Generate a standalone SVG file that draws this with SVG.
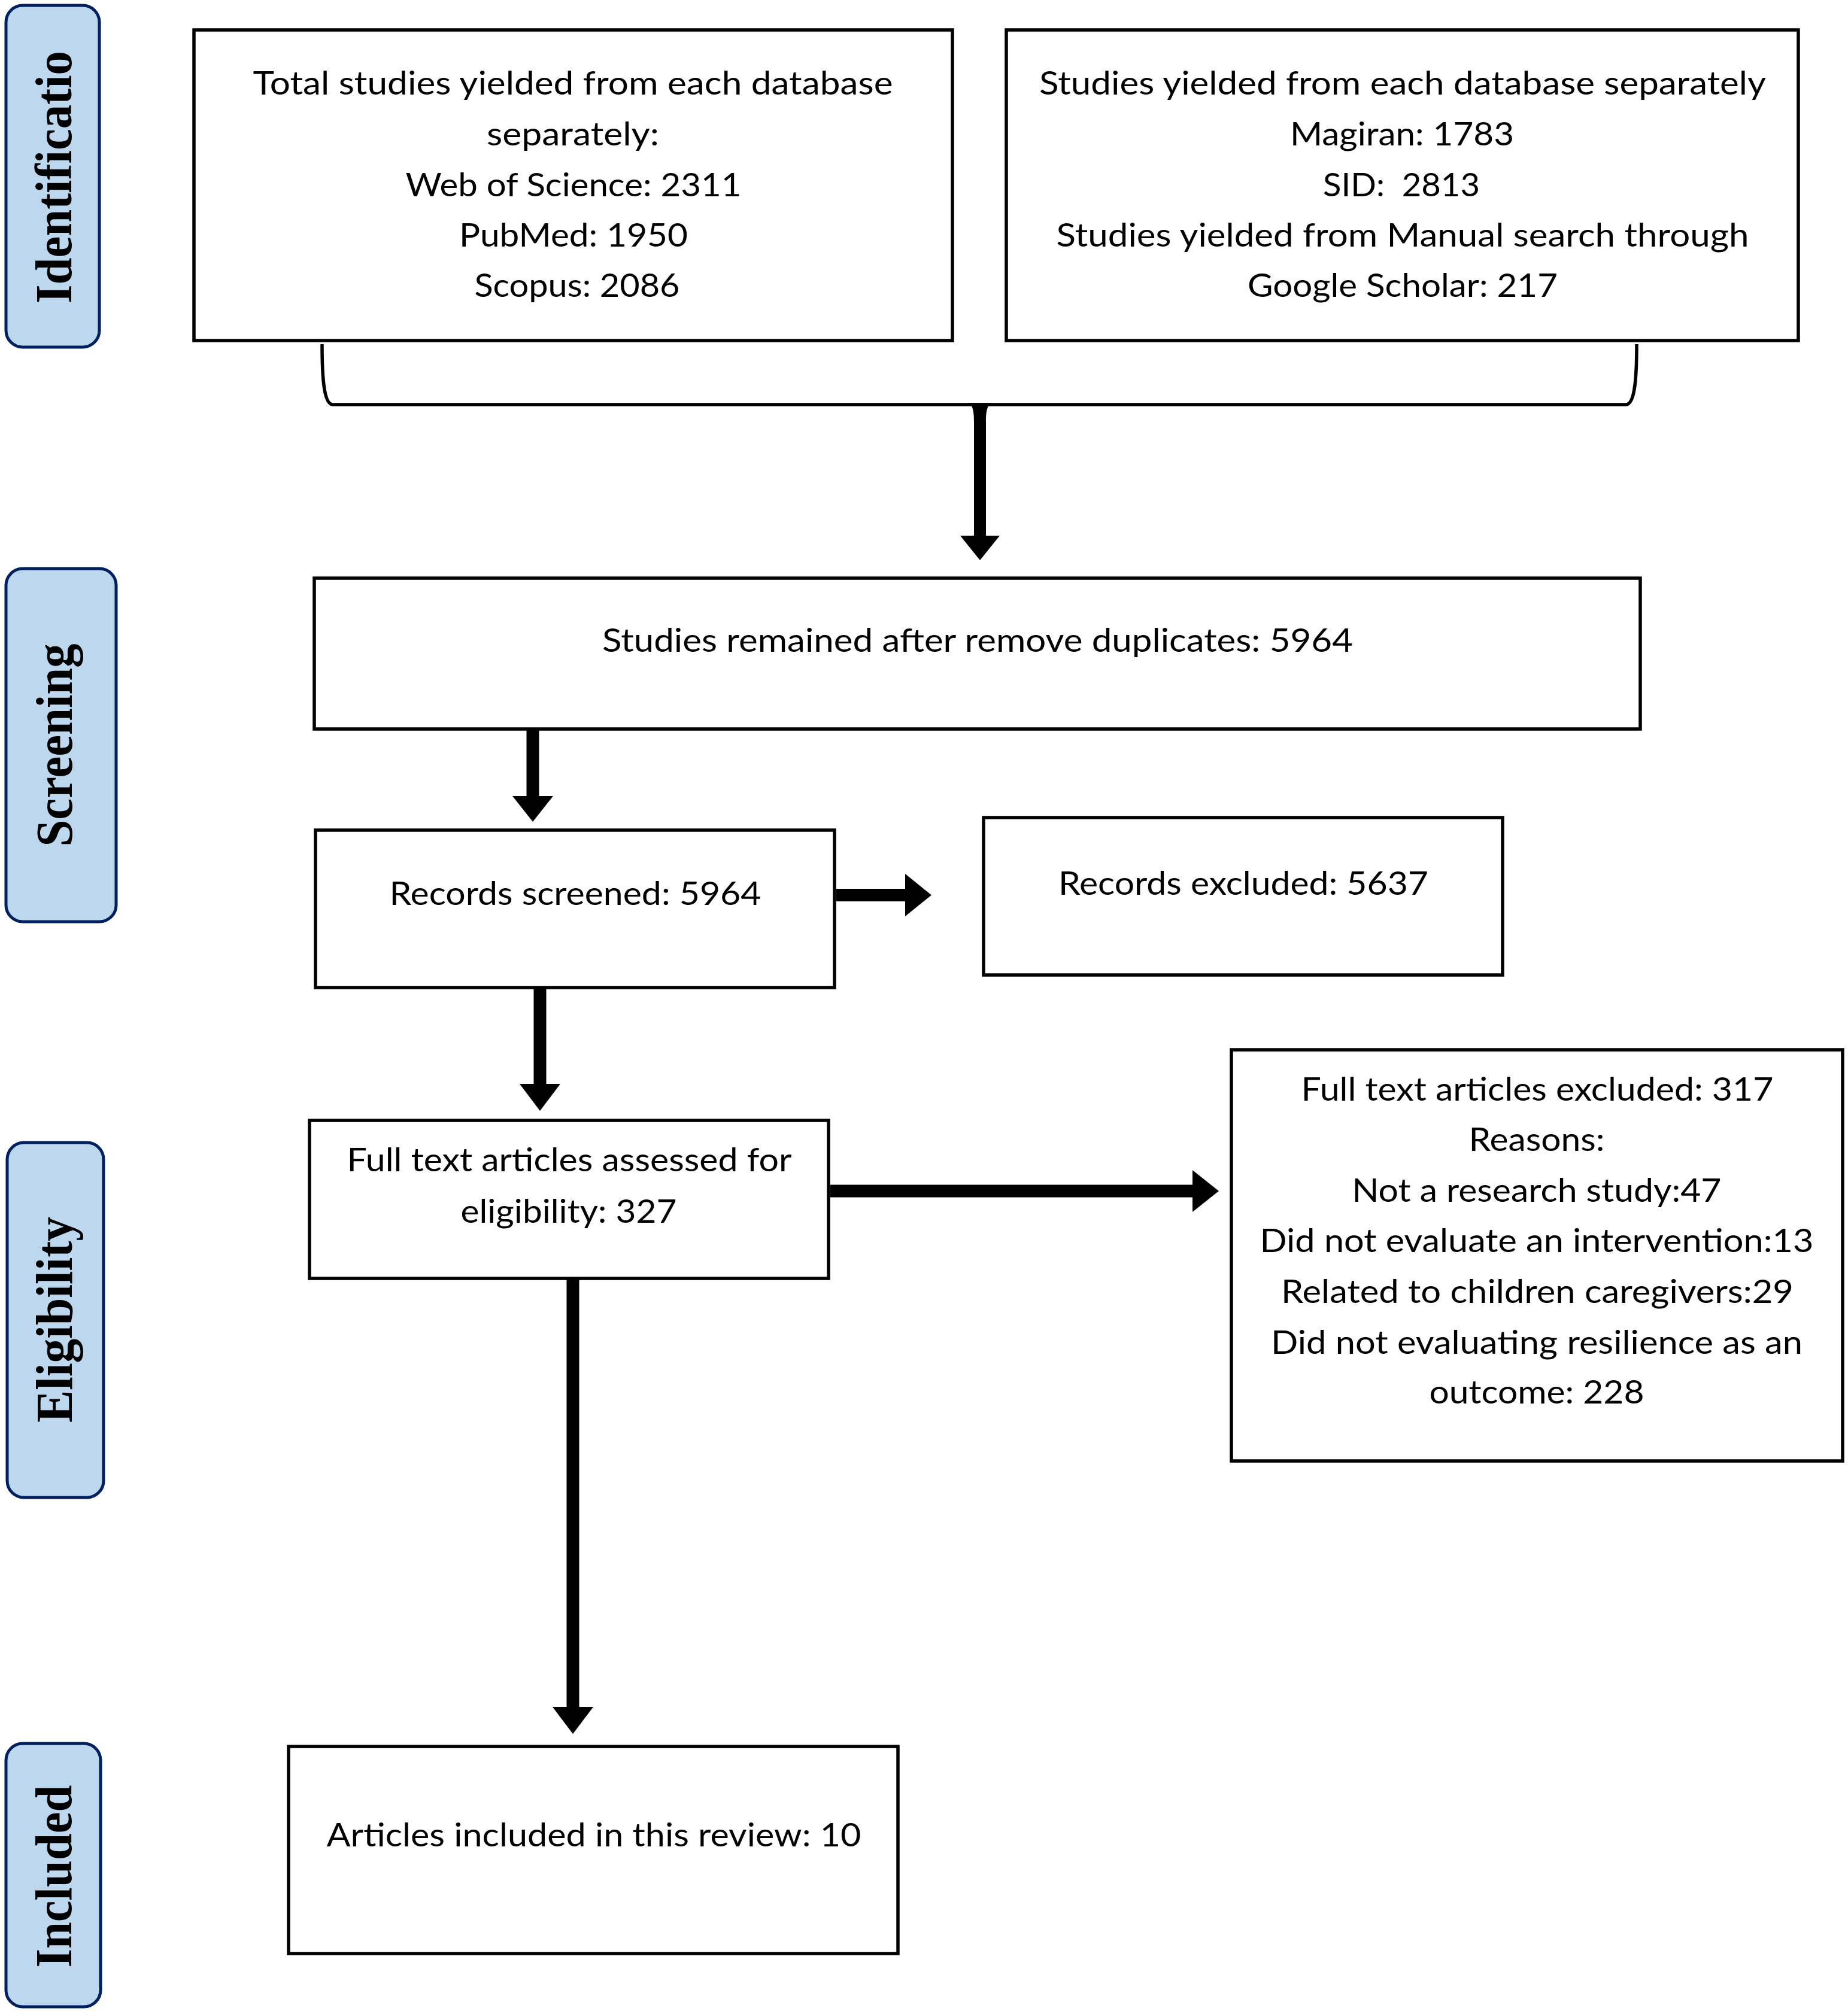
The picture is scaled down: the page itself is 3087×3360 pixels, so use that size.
<svg xmlns="http://www.w3.org/2000/svg" width="3087" height="3360" viewBox="0 0 3087 3360">
<style>
.bg{fill:#ffffff}
.box{fill:#ffffff;stroke:#000000;stroke-width:5.5}
.phase{fill:#BDD7EE;stroke:#002060;stroke-width:5}
.t{font-family:Lato,"Liberation Sans",sans-serif;font-size:54px;fill:#000000;text-anchor:middle}
.pt{font-family:"Liberation Serif","Times New Roman",serif;font-weight:bold;font-size:86px;fill:#000000;text-anchor:middle}
.brace{fill:none;stroke:#000000;stroke-width:5.5}
.head{fill:#000000;stroke:none}
.stemv{stroke:#000000;stroke-width:21;fill:none}
</style>
<rect class="bg" x="0" y="0" width="3087" height="3360"/>

<g id="phase-identification">
<rect class="phase" x="10" y="9" width="156" height="571" rx="28" ry="28"/>
<text class="pt" transform="translate(119,296) rotate(-90)" textLength="422" lengthAdjust="spacingAndGlyphs">Identificatio</text>
</g>
<g id="phase-screening">
<rect class="phase" x="10" y="950" width="184" height="590" rx="28" ry="28"/>
<text class="pt" transform="translate(120,1245) rotate(-90)" textLength="339" lengthAdjust="spacingAndGlyphs">Screening</text>
</g>
<g id="phase-eligibility">
<rect class="phase" x="12" y="1909" width="161" height="593" rx="28" ry="28"/>
<text class="pt" transform="translate(120,2205) rotate(-90)" textLength="344" lengthAdjust="spacingAndGlyphs">Eligibility</text>
</g>
<g id="phase-included">
<rect class="phase" x="10" y="2913" width="158" height="440" rx="28" ry="28"/>
<text class="pt" transform="translate(119,3135) rotate(-90)" textLength="305" lengthAdjust="spacingAndGlyphs">Included</text>
</g>

<g id="box-databases">
<rect class="box" x="324" y="50" width="1267" height="519"/>
<text class="t" x="957" y="158" textLength="1069" lengthAdjust="spacingAndGlyphs">Total studies yielded from each database</text>
<text class="t" x="957" y="243" textLength="288" lengthAdjust="spacingAndGlyphs">separately:</text>
<text class="t" x="958" y="328" textLength="561" lengthAdjust="spacingAndGlyphs">Web of Science: 2311</text>
<text class="t" x="958" y="412" textLength="382" lengthAdjust="spacingAndGlyphs">PubMed: 1950</text>
<text class="t" x="964" y="496" textLength="343" lengthAdjust="spacingAndGlyphs">Scopus: 2086</text>
</g>

<g id="box-other">
<rect class="box" x="1681" y="50" width="1323" height="519"/>
<text class="t" x="2343" y="158" textLength="1214" lengthAdjust="spacingAndGlyphs">Studies yielded from each database separately</text>
<text class="t" x="2342" y="243" textLength="374" lengthAdjust="spacingAndGlyphs">Magiran: 1783</text>
<text class="t" x="2341" y="328" textLength="262" lengthAdjust="spacingAndGlyphs">SID: &#160;2813</text>
<text class="t" x="2343" y="412" textLength="1157" lengthAdjust="spacingAndGlyphs">Studies yielded from Manual search through</text>
<text class="t" x="2343" y="496" textLength="518" lengthAdjust="spacingAndGlyphs">Google Scholar: 217</text>
</g>

<g id="box-duplicates">
<rect class="box" x="525" y="966" width="2215" height="252"/>
<text class="t" x="1633" y="1089" textLength="1254" lengthAdjust="spacingAndGlyphs">Studies remained after remove duplicates: 5964</text>
</g>

<g id="box-screened">
<rect class="box" x="527" y="1387" width="867" height="263"/>
<text class="t" x="961" y="1512" textLength="621" lengthAdjust="spacingAndGlyphs">Records screened: 5964</text>
</g>

<g id="box-excluded">
<rect class="box" x="1643" y="1366" width="867" height="263"/>
<text class="t" x="2077" y="1495" textLength="618" lengthAdjust="spacingAndGlyphs">Records excluded: 5637</text>
</g>

<g id="box-fulltext-excluded">
<rect class="box" x="2057" y="1754" width="1021" height="687"/>
<text class="t" x="2568" y="1839" textLength="789" lengthAdjust="spacingAndGlyphs">Full text articles excluded: 317</text>
<text class="t" x="2567" y="1923" textLength="227" lengthAdjust="spacingAndGlyphs">Reasons:</text>
<text class="t" x="2567" y="2008" textLength="617" lengthAdjust="spacingAndGlyphs">Not a research study:47</text>
<text class="t" x="2567" y="2092" textLength="925" lengthAdjust="spacingAndGlyphs">Did not evaluate an intervention:13</text>
<text class="t" x="2568" y="2177" textLength="856" lengthAdjust="spacingAndGlyphs">Related to children caregivers:29</text>
<text class="t" x="2567" y="2262" textLength="888" lengthAdjust="spacingAndGlyphs">Did not evaluating resilience as an</text>
<text class="t" x="2567" y="2345" textLength="359" lengthAdjust="spacingAndGlyphs">outcome: 228</text>
</g>

<g id="box-assessed">
<rect class="box" x="517" y="1872" width="867" height="264"/>
<text class="t" x="951" y="1957" textLength="743" lengthAdjust="spacingAndGlyphs">Full text articles assessed for</text>
<text class="t" x="950" y="2043" textLength="361" lengthAdjust="spacingAndGlyphs">eligibility: 327</text>
</g>

<g id="box-included">
<rect class="box" x="482" y="2918" width="1018" height="346"/>
<text class="t" x="992" y="3085" textLength="893" lengthAdjust="spacingAndGlyphs">Articles included in this review: 10</text>
</g>

<g id="connectors">
<path class="brace" d="M538,575 C538,632 541,676 556,676 L2716,676 C2731,676 2734,632 2734,575"/>
<path class="head" d="M1614,673.3 C1626,673.3 1627,690 1627,705 L1627,895 L1604,895 L1637,936 L1670,895 L1647,895 L1647,705 C1647,690 1648,673.3 1660,673.3 Z"/>
<line class="stemv" x1="890" y1="1220" x2="890" y2="1332"/>
<polygon class="head" points="856,1330 924,1330 890,1373"/>
<line class="stemv" x1="1397" y1="1495.5" x2="1514" y2="1495.5"/>
<polygon class="head" points="1512,1460 1512,1531 1556,1495.5"/>
<line class="stemv" x1="902" y1="1652" x2="902" y2="1813"/>
<polygon class="head" points="868,1811 936,1811 902,1856"/>
<line class="stemv" x1="1387" y1="1990" x2="1994" y2="1990"/>
<polygon class="head" points="1992,1955 1992,2025 2036,1990"/>
<line class="stemv" x1="957" y1="2138" x2="957" y2="2854"/>
<polygon class="head" points="923,2852 991,2852 957,2897"/>
</g>
</svg>
